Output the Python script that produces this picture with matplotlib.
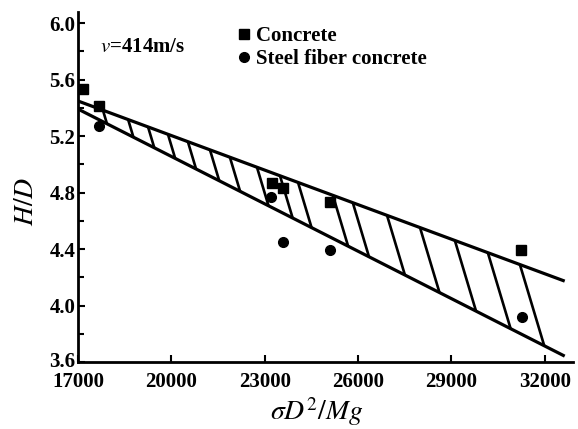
import numpy as np
import matplotlib
matplotlib.use("Agg")
import matplotlib.pyplot as plt
import matplotlib.transforms as mtransforms

plt.rcParams['font.family'] = ['Liberation Serif', 'DejaVu Serif']
plt.rcParams['mathtext.fontset'] = 'stix'

# Data
concrete_x = [17160, 17670, 23230, 23580, 25100, 31230]
concrete_y = [5.53, 5.41, 4.87, 4.83, 4.73, 4.39]
steel_x = [17680, 23200, 23580, 25100, 31260]
steel_y = [5.27, 4.77, 4.45, 4.39, 3.92]

# Band boundary lines (start, end)
band_x = [17000, 32640]
upper_y = [5.448, 4.173]
lower_y = [5.391, 3.642]

# Hatch start positions on the upper line
hatch_x = [17800, 18610, 19250, 19890, 20530, 21240, 21880, 22750, 23490,
           24070, 25190, 25830, 26930, 27990, 29110, 30170, 31200]

xticks = [17000, 20000, 23000, 26000, 29000, 32000]
yticks = [3.6, 4.0, 4.4, 4.8, 5.2, 5.6, 6.0]

fig = plt.figure(figsize=(5.78, 4.29), dpi=100)
ax = fig.add_axes([0.135, 0.156, 0.856, 0.816])

ax.plot(band_x, upper_y, color='black', lw=2.3, solid_capstyle='butt')
ax.plot(band_x, lower_y, color='black', lw=2.3, solid_capstyle='butt')

su = (upper_y[1] - upper_y[0]) / (band_x[1] - band_x[0])
sl = (lower_y[1] - lower_y[0]) / (band_x[1] - band_x[0])
k = 1361.0  # x-units per unit of y along hatch direction
for xt in hatch_x:
    yt = upper_y[0] + su * (xt - band_x[0])
    ylow = lower_y[0] + sl * (xt - band_x[0])
    t = (yt - ylow) / (1 + sl * k)
    ax.plot([xt, xt + k * t], [yt, yt - t], color='black', lw=1.9,
            solid_capstyle='butt')

ax.plot(concrete_x, concrete_y, 's', color='black', ms=6.5, ls='none',
        label='Concrete')
ax.plot(steel_x, steel_y, 'o', color='black', ms=7, ls='none',
        label='Steel fiber concrete')

ax.set_xlim(17000, 32900)
ax.set_ylim(3.6, 6.078)
ax.set_xticks(xticks)
ax.set_yticks(yticks)
ax.set_xticklabels([str(v) for v in xticks], fontsize=15, fontweight='bold')
ax.set_yticklabels([f"{v:.1f}" for v in yticks], fontsize=15, fontweight='bold')
ax.set_yticks(np.arange(3.8, 6.0, 0.4), minor=True)

for s in ['top', 'right']:
    ax.spines[s].set_visible(False)
for s in ['left', 'bottom']:
    ax.spines[s].set_linewidth(2.0)
ax.tick_params(which='major', direction='in', length=5, width=1.5, pad=2)
ax.tick_params(axis='x', which='major', pad=7)
ax.tick_params(which='minor', direction='in', length=4, width=1.5)

# nudge the lowest y label up slightly so it just touches the x label
lbl = ax.get_yticklabels()[0]
lbl.set_transform(lbl.get_transform() +
                  mtransforms.ScaledTranslation(0, 3 / 100, fig.dpi_scale_trans))

ax.text(0.045, 0.885, r'$v$=414m/s', transform=ax.transAxes, fontsize=15,
        fontweight='bold')

ax.legend(loc='upper left', bbox_to_anchor=(0.303, 0.99), frameon=False,
          handlelength=0.5, handletextpad=0.35, borderpad=0, labelspacing=0.15,
          prop={'size': 15, 'weight': 'bold'})

fig.text(0.548, 0.04, r'$\sigma D^2/Mg$', fontsize=20, ha='center', va='center')
fig.text(0.045, 0.53, r'$H/D$', fontsize=20, ha='center', va='center',
         rotation=90)

fig.savefig('out.png', dpi=100)
